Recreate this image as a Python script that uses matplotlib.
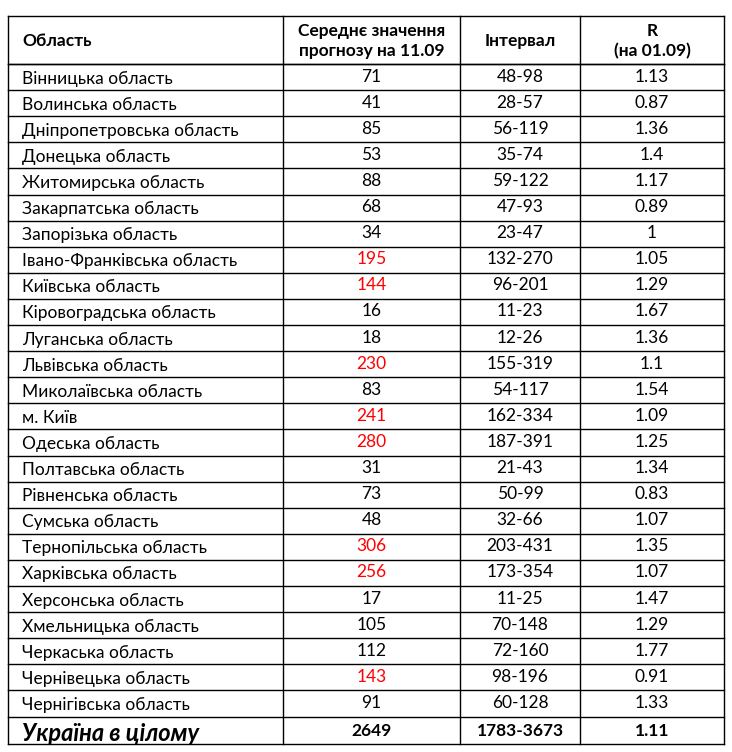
import matplotlib.pyplot as plt

regions = ['Вінницька область', 'Волинська область', 'Дніпропетровська область',
           'Донецька область', 'Житомирська область', 'Закарпатська область',
           'Запорізька область', 'Івано-Франківська область', 'Київська область',
           'Кіровоградська область', 'Луганська область', 'Львівська область',
           'Миколаївська область', 'м. Київ', 'Одеська область', 'Полтавська область',
           'Рівненська область', 'Сумська область', 'Тернопільська область',
           'Харківська область', 'Херсонська область', 'Хмельницька область',
           'Черкаська область', 'Чернівецька область', 'Чернігівська область']
mean_values = [71, 41, 85, 53, 88, 68, 34, 195, 144, 16, 18, 230, 83, 241, 280,
               31, 73, 48, 306, 256, 17, 105, 112, 143, 91]
intervals = ['48-98', '28-57', '56-119', '35-74', '59-122', '47-93', '23-47', '132-270',
             '96-201', '11-23', '12-26', '155-319', '54-117', '162-334', '187-391',
             '21-43', '50-99', '32-66', '203-431', '173-354', '11-25', '70-148',
             '72-160', '98-196', '60-128']
r_values = ['1.13', '0.87', '1.36', '1.4', '1.17', '0.89', '1', '1.05', '1.29', '1.67',
            '1.36', '1.1', '1.54', '1.09', '1.25', '1.34', '0.83', '1.07', '1.35', '1.07',
            '1.47', '1.29', '1.77', '0.91', '1.33']
highlighted = [195, 144, 230, 241, 280, 306, 256, 143]
headers = ['Область', 'Середнє значення\nпрогнозу на 11.09', 'Інтервал', 'R\n(на 01.09)']
total = ['Україна в цілому', '2649', '1783-3673', '1.11']

plt.rcParams['font.family'] = ['Lato', 'DejaVu Sans']

fig = plt.figure(figsize=(7.32, 7.52), dpi=100)
ax = fig.add_axes([0, 0, 1, 1])
ax.set_xlim(0, 732)
ax.set_ylim(752, 0)
ax.axis('off')

cols = [8, 283, 460, 580, 724]
top, head_bottom = 16, 64
row_h = 26.1
bottom = 744
n = len(regions)
row_edges = [head_bottom + i * row_h for i in range(n + 1)] + [bottom]

# grid lines
for x in cols:
    ax.plot([x, x], [top, bottom], color='black', lw=1)
for y in [top, head_bottom] + row_edges:
    ax.plot([cols[0], cols[-1]], [y, y], color='black', lw=1)

centers = [(cols[i] + cols[i + 1]) / 2 for i in range(4)]
fs = 12.5

# header
hy = (top + head_bottom) / 2 + 1
ax.text(22, hy, headers[0], ha='left', va='center', fontsize=fs, fontweight='bold')
for i in range(1, 4):
    ax.text(centers[i], hy, headers[i], ha='center', va='center', fontsize=fs,
            fontweight='bold', linespacing=1.3)

# body rows
for i in range(n):
    y = (row_edges[i] + row_edges[i + 1]) / 2 + 1.5
    ax.text(22, y, regions[i], ha='left', va='center', fontsize=fs)
    color = 'red' if mean_values[i] in highlighted else 'black'
    ax.text(centers[1], y - 2, str(mean_values[i]), ha='center', va='center',
            fontsize=fs, color=color)
    ax.text(centers[2], y - 2, intervals[i], ha='center', va='center', fontsize=fs)
    ax.text(centers[3], y - 2, r_values[i], ha='center', va='center', fontsize=fs)

# total row
ty = (row_edges[-2] + bottom) / 2 + 1
ax.text(22, ty + 2, total[0], ha='left', va='center', fontsize=17,
        fontweight='bold', fontstyle='italic')
for i in range(1, 4):
    ax.text(centers[i], ty, total[i], ha='center', va='center', fontsize=fs,
            fontweight='bold')

fig.savefig('out.png', dpi=100)
